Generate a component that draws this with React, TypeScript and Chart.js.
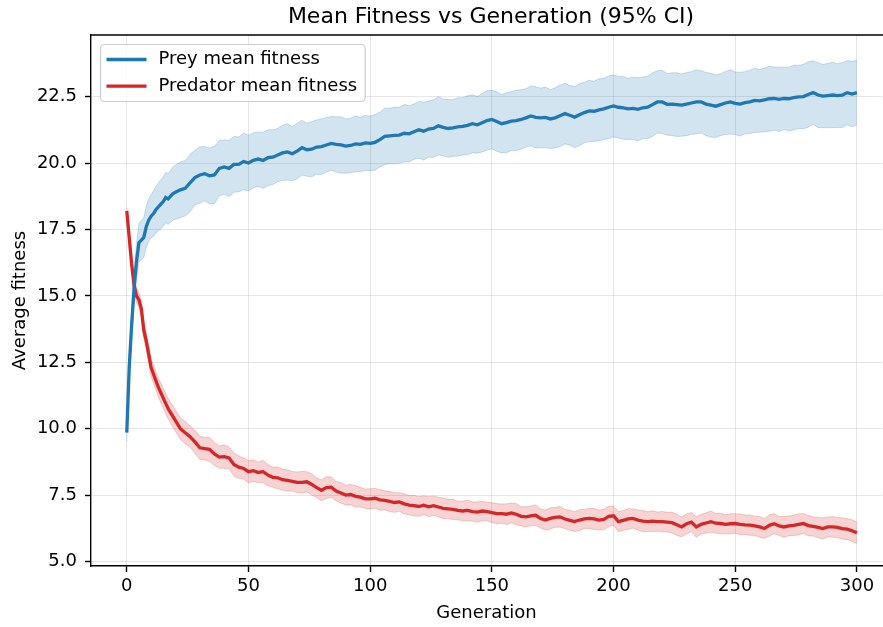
import React, { useEffect, useRef } from 'react';
import { Chart, registerables } from 'chart.js';

Chart.register(...registerables);

const generations = [
  0, 1, 2, 3, 4, 5, 6, 7, 8, 9, 10, 11, 12, 13, 14, 15, 16, 17, 18, 19, 20,
  22, 24, 26, 28, 30, 32, 34, 36, 38, 40, 42, 44, 46, 48, 50,
  52, 54, 56, 58, 60, 62, 64, 66, 68, 70, 72, 74, 76, 78, 80, 82, 84, 86, 88, 90, 92, 94, 96, 98, 100,
  102, 104, 106, 108, 110, 112, 114, 116, 118, 120, 122, 124, 126, 128, 130, 132, 134, 136, 138, 140, 142, 144, 146, 148, 150,
  152, 154, 156, 158, 160, 162, 164, 166, 168, 170, 172, 174, 176, 178, 180, 182, 184, 186, 188, 190, 192, 194, 196, 198, 200,
  202, 204, 206, 208, 210, 212, 214, 216, 218, 220, 222, 224, 226, 228, 230, 232, 234, 236, 238, 240, 242, 244, 246, 248, 250,
  252, 254, 256, 258, 260, 262, 264, 266, 268, 270, 272, 274, 276, 278, 280, 282, 284, 286, 288, 290, 292, 294, 296, 298, 300,
];

const preyMean = [
  9.85, 12.3, 13.9, 15.3, 16.3, 17.0, 17.1, 17.2, 17.6, 17.85, 18.0, 18.1, 18.25, 18.35, 18.45, 18.55, 18.7, 18.65, 18.75, 18.85, 18.9,
  18.99, 19.05, 19.25, 19.45, 19.55, 19.6, 19.52, 19.55, 19.8, 19.85, 19.8, 19.95, 19.95, 20.06, 20.0,
  20.1, 20.15, 20.1, 20.2, 20.22, 20.3, 20.38, 20.42, 20.35, 20.45, 20.58, 20.5, 20.52, 20.6, 20.62, 20.68, 20.74, 20.7, 20.68, 20.64, 20.66, 20.72, 20.7, 20.76, 20.74,
  20.78, 20.88, 21.0, 21.02, 21.04, 21.05, 21.12, 21.1, 21.18, 21.25, 21.2, 21.28, 21.3, 21.4, 21.34, 21.3, 21.32, 21.36, 21.38, 21.42, 21.48, 21.44, 21.52, 21.6, 21.64,
  21.56, 21.48, 21.52, 21.58, 21.6, 21.64, 21.7, 21.77, 21.72, 21.7, 21.72, 21.66, 21.7, 21.78, 21.86, 21.8, 21.73, 21.82, 21.9, 21.96, 21.95, 22.0, 22.04, 22.1, 22.15,
  22.1, 22.08, 22.04, 22.06, 22.02, 22.08, 22.1, 22.2, 22.3, 22.3, 22.21, 22.22, 22.2, 22.18, 22.22, 22.26, 22.3, 22.3, 22.22, 22.18, 22.14, 22.2, 22.26, 22.3, 22.25,
  22.22, 22.27, 22.3, 22.36, 22.34, 22.38, 22.42, 22.43, 22.4, 22.43, 22.42, 22.46, 22.49, 22.5, 22.58, 22.65, 22.56, 22.52, 22.54, 22.56, 22.54, 22.56, 22.65, 22.6, 22.65,
];

const preyCI = [
  0.35, 0.45, 0.55, 0.62, 0.68, 0.72, 0.74, 0.75, 0.78, 0.8, 0.82, 0.85, 0.88, 0.9, 0.92, 0.93, 0.94, 0.96, 0.98, 1.0, 1.02,
  1.05, 1.04, 1.08, 1.03, 1.06, 1.02, 1.05, 1.08, 1.04, 1.02, 1.06, 1.05, 1.03, 1.07, 1.05,
  1.04, 1.02, 1.06, 1.05, 1.03, 1.0, 1.04, 1.06, 1.02, 1.05, 1.03, 1.0, 1.04, 1.02, 1.05, 1.03, 1.01, 1.04, 1.06, 1.02, 1.03, 1.05, 1.02, 1.04, 1.03,
  1.05, 1.03, 1.06, 1.04, 1.07, 1.05, 1.08, 1.06, 1.04, 1.07, 1.09, 1.06, 1.08, 1.1, 1.07, 1.09, 1.06, 1.1, 1.08, 1.11, 1.09, 1.07, 1.1, 1.12, 1.1,
  1.12, 1.1, 1.13, 1.11, 1.14, 1.12, 1.1, 1.13, 1.15, 1.12, 1.14, 1.11, 1.13, 1.16, 1.14, 1.12, 1.15, 1.17, 1.14, 1.16, 1.13, 1.17, 1.15, 1.18, 1.17,
  1.16, 1.18, 1.15, 1.17, 1.19, 1.16, 1.18, 1.2, 1.17, 1.19, 1.16, 1.18, 1.2, 1.17, 1.19, 1.18, 1.21, 1.17, 1.19, 1.2, 1.18, 1.16, 1.19, 1.21, 1.18,
  1.2, 1.17, 1.19, 1.21, 1.18, 1.2, 1.22, 1.19, 1.21, 1.18, 1.2, 1.22, 1.19, 1.21, 1.23, 1.2, 1.22, 1.19, 1.21, 1.23, 1.2, 1.22, 1.21, 1.23, 1.22,
];

const predMean = [
  18.2, 17.2, 16.2, 15.4, 15.0, 14.85, 14.5, 13.7, 13.3, 12.8, 12.3, 12.05, 11.8, 11.55, 11.35, 11.15, 10.95, 10.75, 10.6, 10.45, 10.3,
  10.0, 9.85, 9.7, 9.5, 9.28, 9.25, 9.22, 9.05, 8.93, 8.95, 8.9, 8.65, 8.55, 8.5, 8.38,
  8.42, 8.35, 8.38, 8.25, 8.17, 8.15, 8.08, 8.05, 8.02, 7.98, 7.98, 8.0, 7.9, 7.78, 7.68, 7.78, 7.8, 7.65, 7.58, 7.5, 7.52, 7.45, 7.42, 7.36, 7.36,
  7.38, 7.32, 7.3, 7.26, 7.22, 7.24, 7.17, 7.12, 7.1, 7.07, 7.12, 7.06, 7.1, 7.05, 7.0, 6.98, 6.96, 6.92, 6.9, 6.92, 6.88, 6.86, 6.9, 6.88, 6.84,
  6.8, 6.8, 6.78, 6.83, 6.78, 6.7, 6.68, 6.72, 6.74, 6.62, 6.56, 6.62, 6.66, 6.68, 6.6, 6.55, 6.5, 6.56, 6.6, 6.62, 6.6, 6.56, 6.58, 6.7, 6.72,
  6.5, 6.55, 6.6, 6.62, 6.56, 6.52, 6.5, 6.52, 6.5, 6.5, 6.48, 6.46, 6.38, 6.3, 6.42, 6.48, 6.3, 6.4, 6.45, 6.5, 6.44, 6.43, 6.4, 6.42, 6.43,
  6.4, 6.38, 6.37, 6.34, 6.3, 6.24, 6.36, 6.42, 6.34, 6.3, 6.34, 6.36, 6.4, 6.43, 6.35, 6.32, 6.28, 6.24, 6.3, 6.3, 6.28, 6.24, 6.22, 6.16, 6.08,
];

const predCI = [
  0.12, 0.18, 0.22, 0.25, 0.27, 0.28, 0.3, 0.31, 0.32, 0.33, 0.34, 0.35, 0.35, 0.36, 0.37, 0.37, 0.38, 0.38, 0.39, 0.4, 0.4,
  0.41, 0.42, 0.4, 0.43, 0.44, 0.42, 0.45, 0.43, 0.42, 0.44, 0.41, 0.43, 0.42, 0.4, 0.42,
  0.41, 0.39, 0.42, 0.4, 0.38, 0.41, 0.39, 0.4, 0.37, 0.39, 0.41, 0.38, 0.4, 0.37, 0.39, 0.41, 0.38, 0.36, 0.39, 0.37, 0.38, 0.4, 0.37, 0.36, 0.38,
  0.37, 0.39, 0.36, 0.38, 0.37, 0.35, 0.38, 0.36, 0.39, 0.37, 0.35, 0.38, 0.36, 0.37, 0.39, 0.36, 0.38, 0.35, 0.37, 0.39, 0.36, 0.38, 0.37, 0.35, 0.37,
  0.38, 0.36, 0.39, 0.37, 0.4, 0.36, 0.38, 0.37, 0.39, 0.36, 0.38, 0.4, 0.37, 0.39, 0.36, 0.38, 0.37, 0.39, 0.36, 0.38, 0.4, 0.37, 0.39, 0.38, 0.36,
  0.38, 0.37, 0.39, 0.36, 0.38, 0.4, 0.37, 0.39, 0.36, 0.38, 0.37, 0.39, 0.4, 0.37, 0.38, 0.36, 0.39, 0.37, 0.38, 0.4, 0.37, 0.39, 0.36, 0.38, 0.37,
  0.39, 0.37, 0.38, 0.36, 0.39, 0.37, 0.4, 0.38, 0.36, 0.39, 0.37, 0.38, 0.4, 0.37, 0.39, 0.36, 0.38, 0.4, 0.37, 0.39, 0.38, 0.4, 0.39, 0.41, 0.4,
];

const xTicks = [0, 50, 100, 150, 200, 250, 300];
const yTicks = [5.0, 7.5, 10.0, 12.5, 15.0, 17.5, 20.0, 22.5];

const titleText = 'Mean Fitness vs Generation (95% CI)';
const xLabel = 'Generation';
const yLabel = 'Average fitness';
const preyLabel = 'Prey mean fitness';
const predLabel = 'Predator mean fitness';

const PREY = '#1f77b4';
const PRED = '#d62728';
const PREY_FILL = 'rgba(31,119,180,0.2)';
const PREY_EDGE = 'rgba(31,119,180,0.22)';
const PRED_FILL = 'rgba(214,39,40,0.2)';
const PRED_EDGE = 'rgba(214,39,40,0.22)';
const FONT = '"DejaVu Sans", "Liberation Sans", sans-serif';

const pts = (ys: number[]) => generations.map((g, i) => ({ x: g, y: ys[i] }));
const band = (m: number[], ci: number[], sign: number) =>
  generations.map((g, i) => ({ x: g, y: m[i] + sign * ci[i] }));

const decorPlugin = {
  id: 'decor',
  afterDraw(chart: any) {
    const { ctx, chartArea } = chart;
    ctx.save();
    // top spine
    ctx.strokeStyle = '#000';
    ctx.lineWidth = 1.4;
    ctx.beginPath();
    ctx.moveTo(chartArea.left - 0.7, chartArea.top);
    ctx.lineTo(chart.width, chartArea.top);
    ctx.stroke();

    // title
    ctx.fillStyle = '#000';
    ctx.font = `22px ${FONT}`;
    ctx.textAlign = 'center';
    ctx.textBaseline = 'middle';
    ctx.fillText(titleText, chartArea.left + 400, 17.5);

    // legend
    ctx.font = `18px ${FONT}`;
    const labels = [preyLabel, predLabel];
    const colors = [PREY, PRED];
    const bx = chartArea.left + 9.5;
    const by = chartArea.top + 9.5;
    const textX = bx + 58;
    const maxW = Math.max(...labels.map((l) => ctx.measureText(l).width));
    const bw = textX - bx + maxW + 8;
    const bh = 57;
    const r = 4;
    ctx.beginPath();
    ctx.moveTo(bx + r, by);
    ctx.lineTo(bx + bw - r, by);
    ctx.arcTo(bx + bw, by, bx + bw, by + r, r);
    ctx.lineTo(bx + bw, by + bh - r);
    ctx.arcTo(bx + bw, by + bh, bx + bw - r, by + bh, r);
    ctx.lineTo(bx + r, by + bh);
    ctx.arcTo(bx, by + bh, bx, by + bh - r, r);
    ctx.lineTo(bx, by + r);
    ctx.arcTo(bx, by, bx + r, by, r);
    ctx.closePath();
    ctx.fillStyle = 'rgba(255,255,255,0.8)';
    ctx.fill();
    ctx.strokeStyle = '#cccccc';
    ctx.lineWidth = 1.2;
    ctx.stroke();

    labels.forEach((l, i) => {
      const cy = by + 15 + i * 26.6;
      ctx.strokeStyle = colors[i];
      ctx.lineWidth = 3.3;
      ctx.beginPath();
      ctx.moveTo(bx + 6, cy);
      ctx.lineTo(bx + 46, cy);
      ctx.stroke();
      ctx.fillStyle = '#000';
      ctx.textAlign = 'left';
      ctx.textBaseline = 'middle';
      ctx.fillText(l, textX, cy);
    });
    ctx.restore();
  },
};

export default function App() {
  const ref = useRef<HTMLCanvasElement>(null);

  useEffect(() => {
    if (!ref.current) return;
    const chart = new Chart(ref.current, {
      type: 'line',
      data: {
        datasets: [
          {
            label: preyLabel,
            data: pts(preyMean),
            borderColor: PREY,
            backgroundColor: PREY,
            borderWidth: 3.3,
            pointRadius: 0,
            fill: false,
            order: 0,
          },
          {
            label: predLabel,
            data: pts(predMean),
            borderColor: PRED,
            backgroundColor: PRED,
            borderWidth: 3.3,
            pointRadius: 0,
            fill: false,
            order: 1,
          },
          {
            label: 'Prey 95% CI upper',
            data: band(preyMean, preyCI, 1),
            borderColor: PREY_EDGE,
            backgroundColor: PREY_FILL,
            borderWidth: 1,
            pointRadius: 0,
            fill: '+1',
            order: 2,
          },
          {
            label: 'Prey 95% CI lower',
            data: band(preyMean, preyCI, -1),
            borderColor: PREY_EDGE,
            backgroundColor: PREY_FILL,
            borderWidth: 1,
            pointRadius: 0,
            fill: false,
            order: 3,
          },
          {
            label: 'Predator 95% CI upper',
            data: band(predMean, predCI, 1),
            borderColor: PRED_EDGE,
            backgroundColor: PRED_FILL,
            borderWidth: 1,
            pointRadius: 0,
            fill: '+1',
            order: 4,
          },
          {
            label: 'Predator 95% CI lower',
            data: band(predMean, predCI, -1),
            borderColor: PRED_EDGE,
            backgroundColor: PRED_FILL,
            borderWidth: 1,
            pointRadius: 0,
            fill: false,
            order: 5,
          },
        ],
      },
      options: {
        responsive: false,
        animation: false,
        devicePixelRatio: 1,
        layout: { padding: { top: 35, right: 1, left: 0, bottom: 0 } },
        font: { family: FONT },
        plugins: {
          legend: { display: false },
          title: { display: false },
          tooltip: { enabled: false },
        },
        scales: {
          x: {
            type: 'linear',
            min: -14.7,
            max: 310.3,
            afterBuildTicks: (s: any) => {
              s.ticks = xTicks.map((v) => ({ value: v }));
            },
            afterFit: (s: any) => {
              s.height = 61;
            },
            ticks: {
              color: '#000',
              font: { family: FONT, size: 18 },
              padding: 4,
              maxRotation: 0,
              autoSkip: false,
              callback: (v: any) => String(v),
            },
            grid: {
              color: 'rgba(176,176,176,0.32)',
              lineWidth: 1,
              tickColor: '#000',
              tickWidth: 1.4,
              tickLength: 6,
            },
            border: { display: true, color: '#000', width: 1.4 },
            title: {
              display: true,
              text: xLabel,
              color: '#000',
              font: { family: FONT, size: 18 },
              padding: { top: 0, bottom: 3 },
            },
          },
          y: {
            type: 'linear',
            min: 4.83,
            max: 24.82,
            afterBuildTicks: (s: any) => {
              s.ticks = yTicks.map((v) => ({ value: v }));
            },
            afterFit: (s: any) => {
              s.width = 91;
            },
            ticks: {
              color: '#000',
              font: { family: FONT, size: 18 },
              padding: 8,
              autoSkip: false,
              callback: (v: any) => Number(v).toFixed(1),
            },
            grid: {
              color: 'rgba(176,176,176,0.32)',
              lineWidth: 1,
              tickColor: '#000',
              tickWidth: 1.4,
              tickLength: 6,
            },
            border: { display: true, color: '#000', width: 1.4 },
            title: {
              display: true,
              text: yLabel,
              color: '#000',
              font: { family: FONT, size: 18 },
              padding: { top: 10, bottom: 0 },
            },
          },
        },
      },
      plugins: [decorPlugin],
    } as any);
    return () => chart.destroy();
  }, []);

  return (
    <div style={{ position: 'absolute', left: 0, top: 0, width: 883, height: 627, background: '#fff' }}>
      <canvas ref={ref} width={883} height={627} style={{ width: 883, height: 627, display: 'block' }} />
    </div>
  );
}
